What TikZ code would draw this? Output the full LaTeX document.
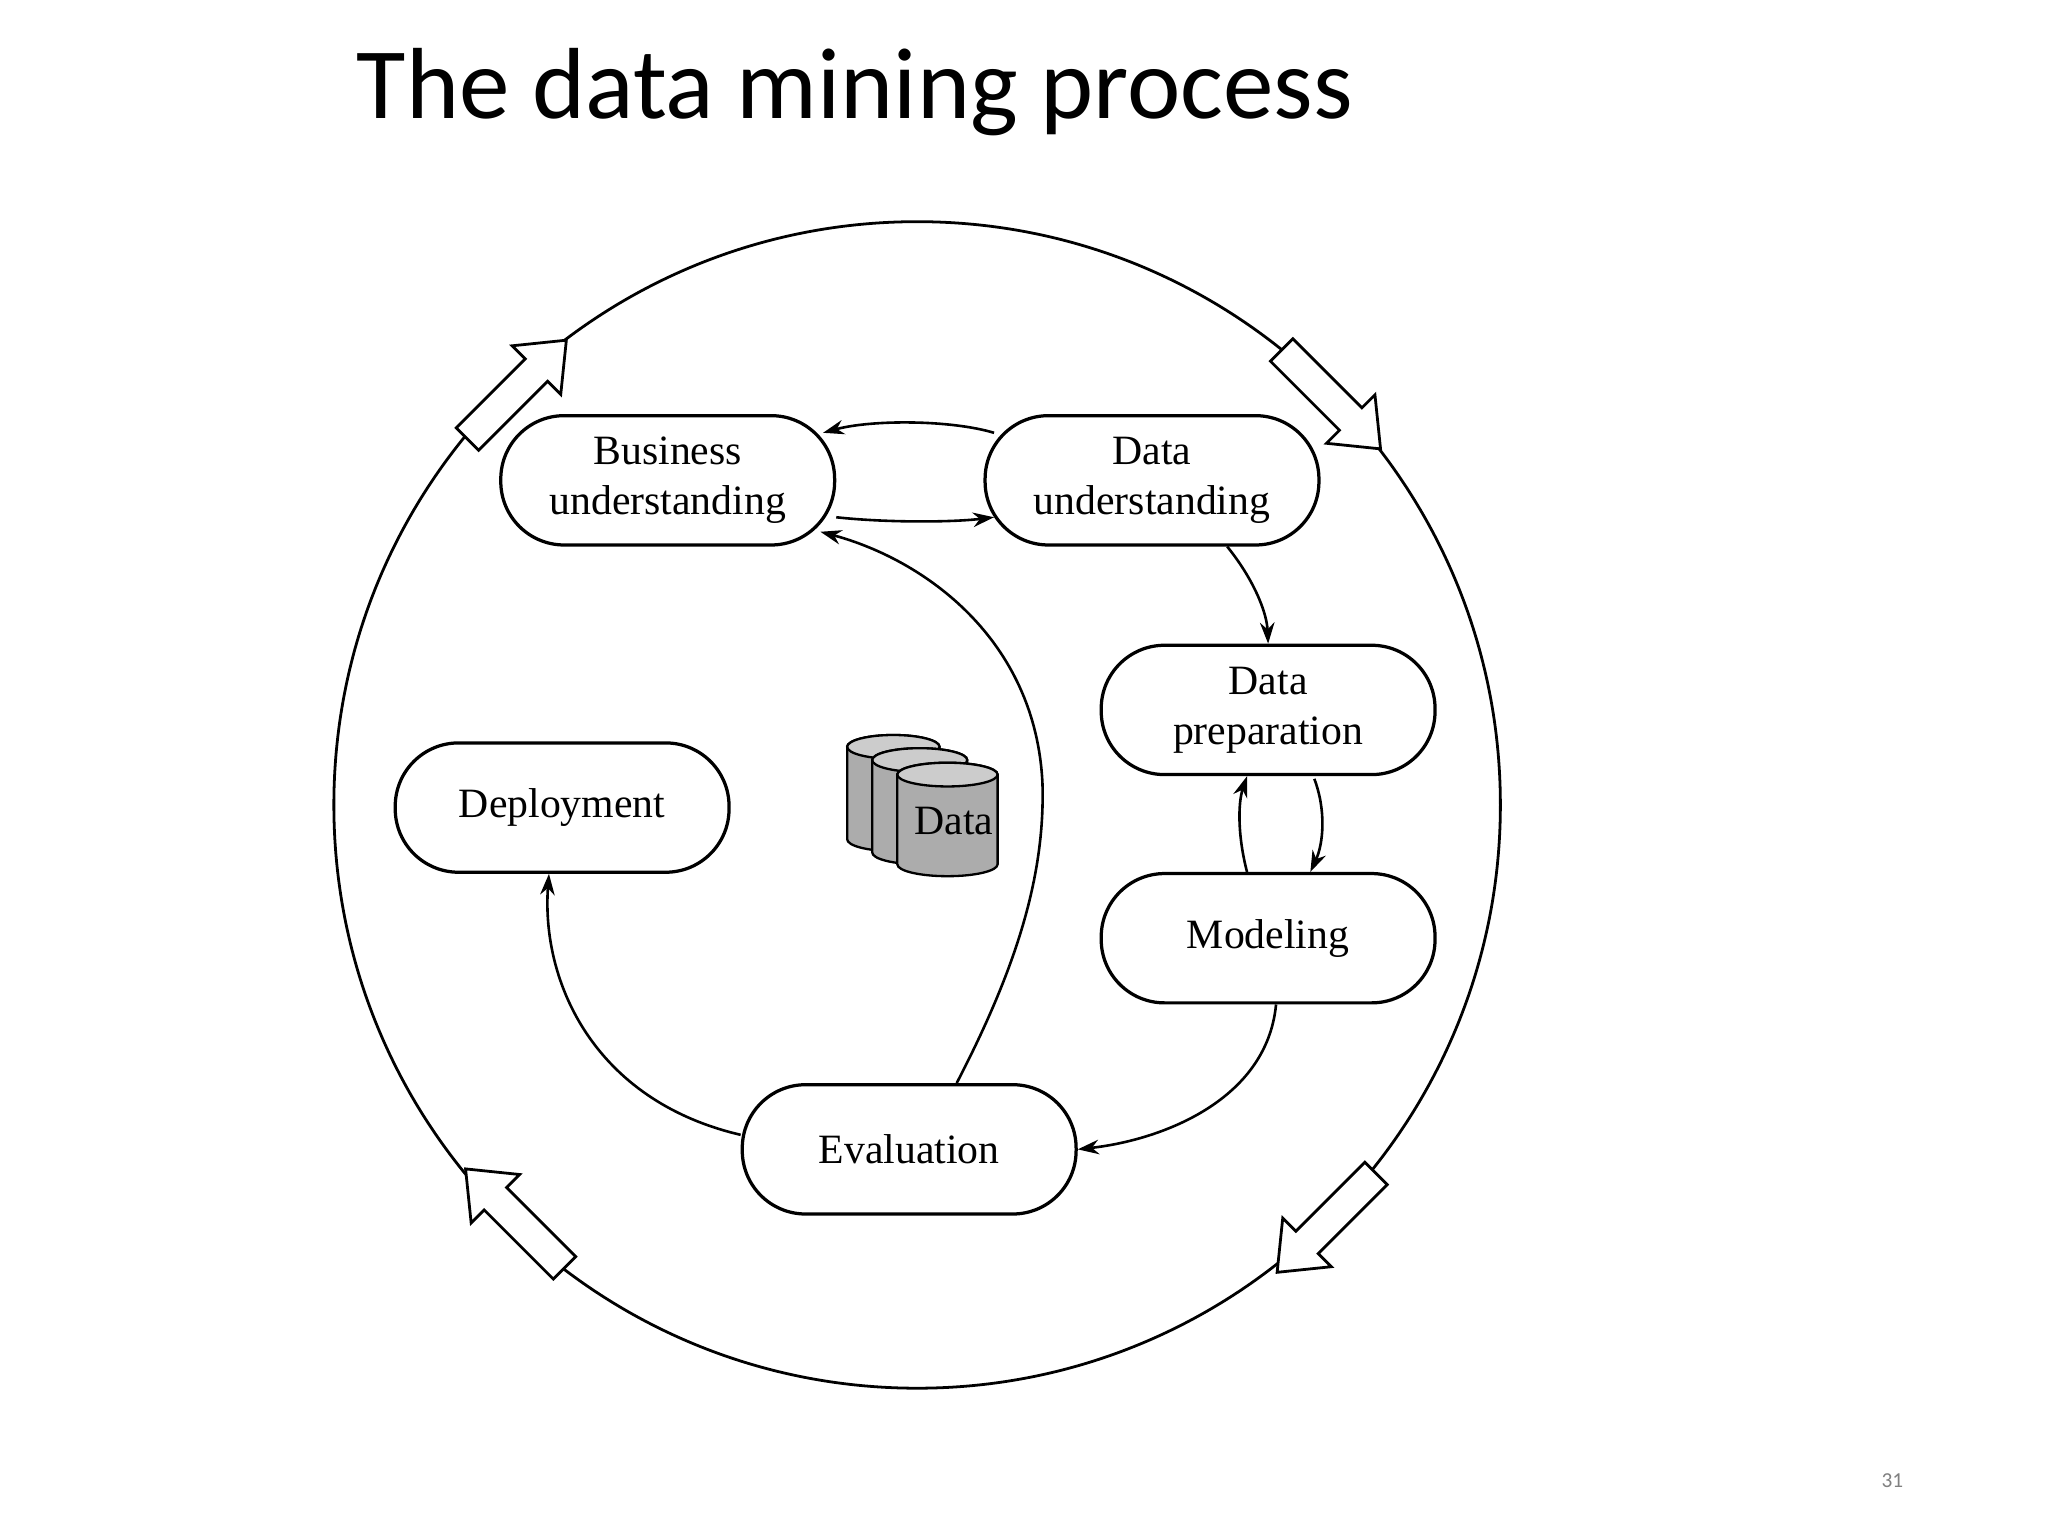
\documentclass[tikz,border=0pt]{standalone}
\usepackage{fontspec}
\setmainfont{Liberation Serif}
\newfontfamily\titlefont{Carlito}
\usetikzlibrary{arrows.meta,calc}
\begin{document}
\begin{tikzpicture}[x=0.05cm,y=0.05cm,
  box/.style={draw,line width=3.5pt,rectangle,rounded corners=2.4cm,minimum width=12.65cm,minimum height=4.9cm,align=center,font=\fontsize{45}{54}\selectfont},
  arr/.style={line width=2.8pt,-{Stealth[length=0.8cm,width=0.55cm]}},
  blk/.style={draw,line width=3pt,fill=white}]
\useasboundingbox (0,0) rectangle (1552,1164);
\fill[white] (0,0) rectangle (1552,1164);
\node[anchor=base west,font=\titlefont\fontsize{109}{114}\selectfont] (title) at (268,1074) {The data mining process};
\node[text=gray,font=\titlefont\fontsize{23}{26}\selectfont] (pg) at (1434,42) {31};
\draw[line width=3pt] (695,554) circle (442);
% block arrows
\foreach \cx/\cy/\r in {391/868/45,1008/862/-45,1006/238/-135,391/240/135}{
  \begin{scope}[shift={(\cx,\cy)},rotate=\r]
  \draw[blk] (-52,-12)--(22,-12)--(22,-26)--(54,0)--(22,26)--(22,12)--(-52,12)--cycle;
  \end{scope}}
\node[box] (BU) at (506,800) {Business\\understanding};
\node[box] (DU) at (873,800) {Data\\understanding};
\node[box] (DP) at (961,626) {Data\\preparation};
\node[box] (MO) at (961,453) {Modeling};
\node[box] (EV) at (689,293) {Evaluation};
\node[box] (DE) at (426,552) {Deployment};
% cylinders
\foreach \cx/\rx/\tp/\bt in {677/35/598/528,697/36/588/518,718/38/577/509}{
  \draw[line width=2.5pt,fill=gray!65] (\cx-\rx,\tp) -- (\cx-\rx,\bt) arc (180:360:\rx cm/20 and 0.45cm) -- (\cx+\rx,\tp) arc (0:180:\rx cm/20 and 0.45cm) -- cycle;
  \draw[line width=2.5pt,fill=gray!40] (\cx,\tp) ellipse (\rx cm/20 and 0.45cm);}
\node[font=\fontsize{45}{54}\selectfont] (dlab) at (723,542) {Data};
% connectors
\draw[arr] ($(DU.west)+(8,36)$) .. controls (720,846) and (660,846) .. ($(BU.east)+(-10,36)$);
\draw[arr] ($(BU.east)+(0,-28)$) .. controls (670,768) and (720,768) .. ($(DU.west)+(8,-28)$);
\draw[arr] ($(DU.south)+(57,0)$) .. controls (950,725) and (960,700) .. (DP.north);
\draw[arr] ($(DP.south)+(35,-2)$) .. controls (1005,550) and (1003,525) .. ($(MO.north)+(32,0)$);
\draw[arr] ($(MO.north)+(-16,0)$) .. controls (938,530) and (938,555) .. ($(DP.south)+(-16,0)$);
\draw[arr] ($(MO.south)+(6,0)$) .. controls (960,330) and (880,300) .. (EV.east);
\draw[arr] ($(EV.north)+(36,0)$) .. controls (770,430) and (792,500) .. (790,570) .. controls (785,680) and (700,740) .. ($(BU.east)+(-12,-39)$);
\draw[arr] ($(EV.west)+(0,11)$) .. controls (450,330) and (410,420) .. ($(DE.south)+(-10,0)$);
\end{tikzpicture}
\end{document}
